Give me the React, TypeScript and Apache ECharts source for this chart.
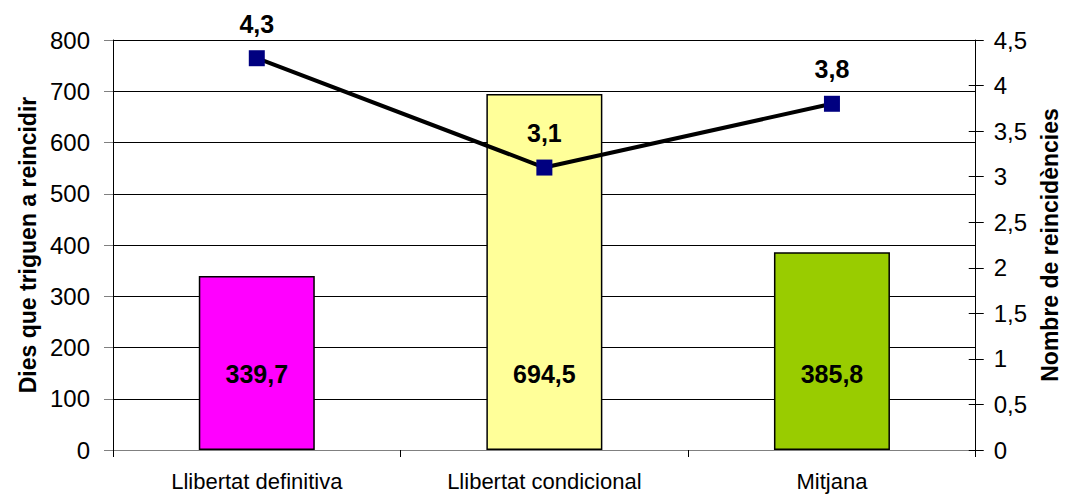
import React, { useEffect, useRef } from "react";
import * as echarts from "echarts";

const categories = ["Llibertat definitiva", "Llibertat condicional", "Mitjana"];
const diesValues = [339.7, 694.5, 385.8];
const reincidenciesValues = [4.3, 3.1, 3.8];
const leftTicks = { min: 0, max: 800, interval: 100 };
const rightTicks = { min: 0, max: 4.5, interval: 0.5 };
const barColors = ["#FF00FF", "#FFFF99", "#99CC00"];

const FONT = "'Liberation Sans', Arial, sans-serif";
const comma = (v: number, d?: number) =>
  (d === undefined ? String(v) : v.toFixed(d)).replace(".", ",");

export default function App() {
  const ref = useRef<HTMLDivElement>(null);
  useEffect(() => {
    if (!ref.current) return;
    const chart = echarts.init(ref.current, null, { renderer: "svg" });
    chart.setOption({
      animation: false,
      backgroundColor: "#fff",
      textStyle: { fontFamily: FONT, color: "#000" },
      grid: { left: 113, right: 88, top: 40, bottom: 45, containLabel: false },
      xAxis: {
        type: "category",
        data: categories,
        axisLine: { lineStyle: { color: "#808080", width: 1 } },
        axisTick: { show: true, length: 7, lineStyle: { color: "#000" } },
        axisLabel: { fontSize: 22, color: "#000", margin: 20, fontFamily: FONT },
      },
      yAxis: [
        {
          type: "value",
          ...leftTicks,
          position: "left",
          name: "Dies que triguen a reincidir",
          nameLocation: "middle",
          nameGap: 74,
          nameTextStyle: { fontSize: 23, fontWeight: "bold", color: "#000", fontFamily: FONT },
          axisLine: { show: true, lineStyle: { color: "#000", width: 1 } },
          axisTick: { show: true, length: 9, lineStyle: { color: "#808080" } },
          axisLabel: { fontSize: 24, color: "#000", margin: 23, fontFamily: FONT },
          splitLine: { show: true, lineStyle: { color: "#000", width: 1 } },
        },
        {
          type: "value",
          ...rightTicks,
          position: "right",
          name: "Nombre de reincidències",
          nameLocation: "middle",
          nameGap: 62,
          nameRotate: 90,
          nameTextStyle: { fontSize: 23, fontWeight: "bold", color: "#000", fontFamily: FONT },
          axisLine: { show: true, lineStyle: { color: "#000", width: 1 } },
          axisTick: { show: true, length: 8, lineStyle: { color: "#000" } },
          axisLabel: {
            fontSize: 24,
            color: "#000",
            margin: 18,
            fontFamily: FONT,
            formatter: (v: number) => comma(v),
          },
          splitLine: { show: false },
        },
        {
          type: "value",
          ...rightTicks,
          position: "right",
          axisLine: { show: false },
          axisTick: { show: true, inside: true, length: 7, lineStyle: { color: "#000" } },
          axisLabel: { show: false },
          splitLine: { show: false },
        },
      ],
      series: [
        {
          type: "bar",
          yAxisIndex: 0,
          barWidth: 116,
          data: diesValues.map((v, i) => ({
            value: v,
            itemStyle: { color: barColors[i], borderColor: "#000", borderWidth: 1.5 },
          })),
          label: {
            show: true,
            position: "insideBottom",
            distance: 64,
            fontSize: 25,
            fontWeight: "bold",
            color: "#000",
            fontFamily: FONT,
            formatter: (p: any) => comma(p.value, 1),
          },
        },
        {
          type: "line",
          yAxisIndex: 1,
          data: reincidenciesValues,
          symbol: "rect",
          symbolSize: 16,
          lineStyle: { color: "#000", width: 4 },
          itemStyle: { color: "#000080" },
          z: 5,
          label: {
            show: true,
            position: "top",
            distance: 14,
            fontSize: 25,
            fontWeight: "bold",
            color: "#000",
            fontFamily: FONT,
            formatter: (p: any) => comma(p.value, 1),
          },
        },
      ],
    });
    return () => chart.dispose();
  }, []);
  return (
    <div
      ref={ref}
      style={{ position: "fixed", left: 0, top: 0, width: 1069, height: 495 }}
    />
  );
}
